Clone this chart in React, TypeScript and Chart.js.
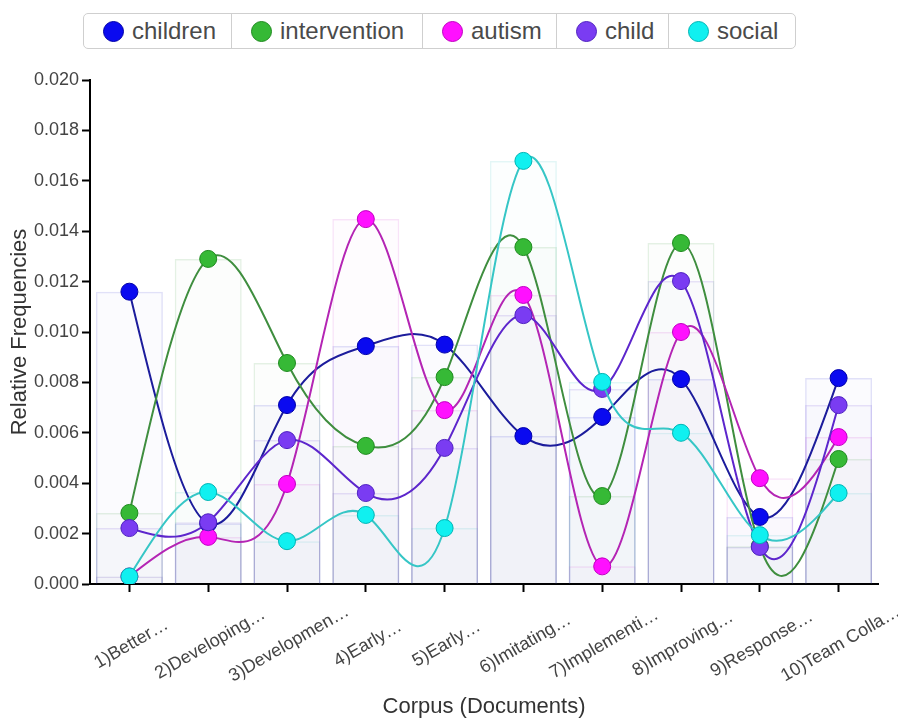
import React, { useEffect, useRef } from 'react';
import { Chart, registerables } from 'chart.js';
Chart.register(...registerables);

const categories = [
  '1)Better…',
  '2)Developing…',
  '3)Developmen…',
  '4)Early…',
  '5)Early…',
  '6)Imitating…',
  '7)Implementi…',
  '8)Improving…',
  '9)Response…',
  '10)Team Colla…',
];

const seriesNames = ['children', 'intervention', 'autism', 'child', 'social'];

const children = [0.0116, 0.0024, 0.0071, 0.00944, 0.0095, 0.00587, 0.00663, 0.00813, 0.00266, 0.00817];
const intervention = [0.00282, 0.0129, 0.00877, 0.00548, 0.00821, 0.01337, 0.00349, 0.01353, 0.0015, 0.00496];
const autism = [0.0003, 0.00187, 0.00397, 0.01448, 0.0069, 0.01147, 0.0007, 0.01, 0.0042, 0.00583];
const child = [0.00222, 0.00245, 0.00571, 0.00361, 0.0054, 0.01067, 0.00774, 0.01202, 0.00147, 0.0071];
const social = [0.0003, 0.00365, 0.0017, 0.00274, 0.00222, 0.01679, 0.00802, 0.006, 0.00194, 0.00361];

const seriesValues = [children, intervention, autism, child, social];

const yTicksMin = 0;
const yTicksMax = 0.02;
const yTickStep = 0.002;

const pointFill = ['#0a0af0', '#36b936', '#ff10ff', '#7a3cf2', '#10f0f0'];
const pointEdge = ['#0000a8', '#1f8a1f', '#c000c0', '#4f22c0', '#00b4b4'];
const lineColor = ['#1c1c9c', '#3f8e3f', '#b425b4', '#5d26cc', '#36c6c6'];
const barRgb = ['70,70,210', '90,170,90', '210,80,210', '120,80,220', '80,200,200'];
const legendWidths = [147, 191, 134, 112, 127];

const FONT = '"Liberation Sans", Arial, Helvetica, sans-serif';

// natural cubic spline control points (same system as d3.curveNatural)
function naturalControls(v: number[]) {
  const n = v.length - 1;
  const a = new Array(n);
  const b = new Array(n);
  const r = new Array(n);
  if (n < 1) return [a, b];
  if (n === 1) {
    a[0] = (2 * v[0] + v[1]) / 3;
    b[0] = (v[0] + 2 * v[1]) / 3;
    return [a, b];
  }
  a[0] = 0; b[0] = 2; r[0] = v[0] + 2 * v[1];
  for (let i = 1; i < n - 1; ++i) { a[i] = 1; b[i] = 4; r[i] = 4 * v[i] + 2 * v[i + 1]; }
  a[n - 1] = 2; b[n - 1] = 7; r[n - 1] = 8 * v[n - 1] + v[n];
  for (let i = 1; i < n; ++i) {
    const m = a[i] / b[i - 1];
    b[i] -= m;
    r[i] -= m * r[i - 1];
  }
  a[n - 1] = r[n - 1] / b[n - 1];
  for (let i = n - 2; i >= 0; --i) a[i] = (r[i] - a[i + 1]) / b[i];
  b[n - 1] = (v[n] + a[n - 1]) / 2;
  for (let i = 0; i < n - 1; ++i) b[i] = 2 * v[i + 1] - a[i + 1];
  return [a, b];
}

const naturalCurvePlugin = {
  id: 'naturalCurve',
  beforeDatasetDraw(chart: any, args: any) {
    const meta = args.meta;
    if (meta.type !== 'line') return;
    const pts = meta.data;
    if (!pts || pts.length < 2) return;
    const xs = pts.map((p: any) => p.x);
    const ys = pts.map((p: any) => p.y);
    const [ax, bx] = naturalControls(xs);
    const [ay, by] = naturalControls(ys);
    for (let i = 0; i < pts.length; i++) {
      const p = pts[i];
      if (i < pts.length - 1) {
        p.cp2x = ax[i];
        p.cp2y = ay[i];
      } else {
        p.cp2x = p.x;
        p.cp2y = p.y;
      }
      if (i > 0) {
        p.cp1x = bx[i - 1];
        p.cp1y = by[i - 1];
      } else {
        p.cp1x = p.x;
        p.cp1y = p.y;
      }
    }
    meta.dataset._pointsUpdated = true;
    meta.dataset._path = undefined;
  },
};

const xLabelPlugin = {
  id: 'xCenteredLabels',
  afterDraw(chart: any) {
    const xs = chart.scales.x;
    const ctx = chart.ctx;
    ctx.save();
    ctx.font = `18px ${FONT}`;
    ctx.fillStyle = '#444';
    ctx.textAlign = 'center';
    ctx.textBaseline = 'middle';
    const y = xs.top + 60;
    categories.forEach((label, i) => {
      const x = xs.getPixelForTick(i) + 2;
      ctx.save();
      ctx.translate(x, y);
      ctx.rotate(-Math.PI / 6);
      ctx.fillText(label, 0, 0);
      ctx.restore();
    });
    ctx.restore();
  },
};

export default function App() {
  const ref = useRef<HTMLCanvasElement | null>(null);

  useEffect(() => {
    document.body.style.margin = '0';
    const canvas = ref.current;
    if (!canvas) return;

    const barSets = seriesNames.map((name, i) => ({
      type: 'bar' as const,
      label: name + ' bar',
      data: seriesValues[i],
      backgroundColor: `rgba(${barRgb[i]},0.018)`,
      borderColor: `rgba(${barRgb[i]},0.16)`,
      borderWidth: 1.5,
      grouped: false,
      barPercentage: 0.85,
      categoryPercentage: 1.0,
      order: 20 + i,
    }));

    const lineSets = seriesNames.map((name, i) => ({
      type: 'line' as const,
      label: name,
      data: seriesValues[i],
      borderColor: lineColor[i],
      borderWidth: 2,
      tension: 0.4,
      fill: false,
      pointRadius: 8.5,
      pointHoverRadius: 8.5,
      pointBackgroundColor: pointFill[i],
      pointBorderColor: pointEdge[i],
      pointBorderWidth: 1,
      order: 4 - i,
    }));

    const chart = new Chart(canvas, {
      type: 'bar',
      data: {
        labels: categories,
        datasets: [...barSets, ...lineSets] as any,
      },
      plugins: [naturalCurvePlugin, xLabelPlugin],
      options: {
        responsive: false,
        animation: false,
        layout: { padding: { top: 80, right: 20, left: 0, bottom: 0 } },
        plugins: {
          legend: { display: false },
          tooltip: { enabled: false },
        },
        scales: {
          x: {
            type: 'category',
            offset: true,
            grid: {
              display: true,
              offset: false,
              drawOnChartArea: false,
              drawTicks: true,
              tickLength: 8,
              tickWidth: 2,
              tickColor: '#000',
            },
            border: { display: true, color: '#000', width: 2 },
            ticks: { display: false },
            title: {
              display: true,
              text: 'Corpus (Documents)',
              color: '#333',
              font: { size: 22, family: FONT },
              padding: { top: 0, bottom: 0 },
            },
            afterFit: (s: any) => {
              s.height = 136;
            },
          },
          y: {
            min: yTicksMin,
            max: yTicksMax,
            grid: {
              display: true,
              drawOnChartArea: false,
              drawTicks: true,
              tickLength: 8,
              tickWidth: 2,
              tickColor: '#000',
            },
            border: { display: true, color: '#000', width: 2 },
            ticks: {
              stepSize: yTickStep,
              padding: 3,
              color: '#444',
              font: { size: 18, family: FONT },
              callback: (v: any) => Number(v).toFixed(3),
            },
            title: {
              display: true,
              text: 'Relative Frequencies',
              color: '#333',
              font: { size: 22, family: FONT },
              padding: { top: 7, bottom: 0 },
            },
            afterFit: (s: any) => {
              s.width = 90;
            },
          },
        },
      },
    });

    return () => chart.destroy();
  }, []);

  return (
    <div style={{ position: 'relative', width: 898, height: 720, background: '#fff' }}>
      <canvas ref={ref} width={898} height={720} style={{ position: 'absolute', left: 0, top: 0 }} />
      <div
        style={{
          position: 'absolute',
          left: 83,
          top: 13,
          height: 34,
          display: 'flex',
          border: '1.5px solid #cfcfcf',
          borderRadius: 5,
          fontFamily: FONT,
          fontSize: 24,
          color: '#4a4a4a',
          background: '#fff',
        }}
      >
        {seriesNames.map((name, i) => (
          <div
            key={name}
            style={{
              width: legendWidths[i],
              boxSizing: 'border-box',
              display: 'flex',
              alignItems: 'center',
              paddingLeft: 19,
              whiteSpace: 'nowrap',
              borderLeft: i === 0 ? 'none' : '1.5px solid #cfcfcf',
            }}
          >
            <span
              style={{
                display: 'inline-block',
                flexShrink: 0,
                width: 21,
                height: 21,
                borderRadius: '50%',
                background: pointFill[i],
                border: `1px solid ${pointEdge[i]}`,
                boxSizing: 'border-box',
                marginRight: 8,
              }}
            />
            <span>{name}</span>
          </div>
        ))}
      </div>
    </div>
  );
}
